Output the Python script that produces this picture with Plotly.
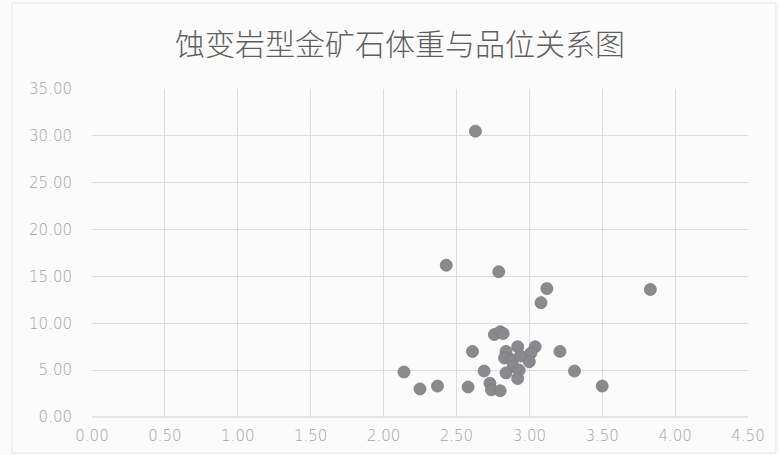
import plotly.graph_objects as go

# Specific gravity (x) and gold grade (y) of altered-rock type ore samples
density = [2.43, 2.79, 3.12, 3.08, 3.83, 2.63, 2.76, 2.80, 2.82, 2.61,
           2.92, 3.04, 3.21, 2.84, 3.01, 2.83, 2.88, 2.94, 3.00, 2.89,
           2.93, 2.84, 2.92, 2.69, 2.73, 2.74, 2.80, 2.58, 2.14, 2.25,
           2.37, 3.31, 3.50]
grade = [16.2, 15.5, 13.7, 12.2, 13.6, 30.5, 8.8, 9.1, 8.9, 7.0,
         7.5, 7.5, 7.0, 7.0, 6.8, 6.3, 6.1, 6.5, 5.9, 5.4,
         5.0, 4.7, 4.1, 4.9, 3.6, 2.9, 2.8, 3.2, 4.8, 3.0,
         3.3, 4.9, 3.3]

title_text = "蚀变岩型金矿石体重与品位关系图"

W, H = 779, 455
L, R, T, B = 92, 31, 89, 38

fig = go.Figure(go.Scatter(
    x=density, y=grade, mode="markers",
    marker=dict(size=12, color="#8a8a8e", line=dict(color="#7c7c80", width=0.8)),
    showlegend=False,
))

tick_font = dict(family="DejaVu Sans, sans-serif", size=15, color="#a3a3a3", weight=300)

fig.update_layout(
    width=W, height=H,
    margin=dict(l=L, r=R, t=T, b=B),
    paper_bgcolor="#fbfbfb",
    plot_bgcolor="#fbfbfb",
    title=dict(
        text=title_text,
        x=400 / W, xref="container", xanchor="center",
        y=1 - 44 / H, yref="container", yanchor="middle",
        font=dict(family="Noto Sans CJK SC", size=30, color="#5e5e5e", weight=300),
    ),
    xaxis=dict(
        range=[0, 4.5], dtick=0.5, tick0=0, tickformat=".2f",
        showgrid=True, gridcolor="#dcdcdc", gridwidth=1,
        zeroline=False, showline=False, ticks="", automargin=False,
        tickfont=tick_font, ticklabelstandoff=8,
    ),
    yaxis=dict(
        range=[0, 35], dtick=5, tick0=0, tickformat=".2f",
        showgrid=True, gridcolor="#dcdcdc", gridwidth=1,
        zeroline=False, showline=False, ticks="", automargin=False,
        tickfont=tick_font, ticklabelstandoff=19,
    ),
    shapes=[
        dict(type="line", xref="paper", yref="paper", x0=0, x1=1, y0=0, y1=0,
             line=dict(color="#cfcfcf", width=1)),
        dict(type="rect", xref="paper", yref="paper",
             x0=(12 - L) / (W - L - R), x1=(776 - L) / (W - L - R),
             y0=-(H - 2 - (H - B)) / (H - T - B), y1=1 + (T - 3) / (H - T - B),
             line=dict(color="#e4e4e4", width=1)),
    ],
)

fig.write_html("out.html")
